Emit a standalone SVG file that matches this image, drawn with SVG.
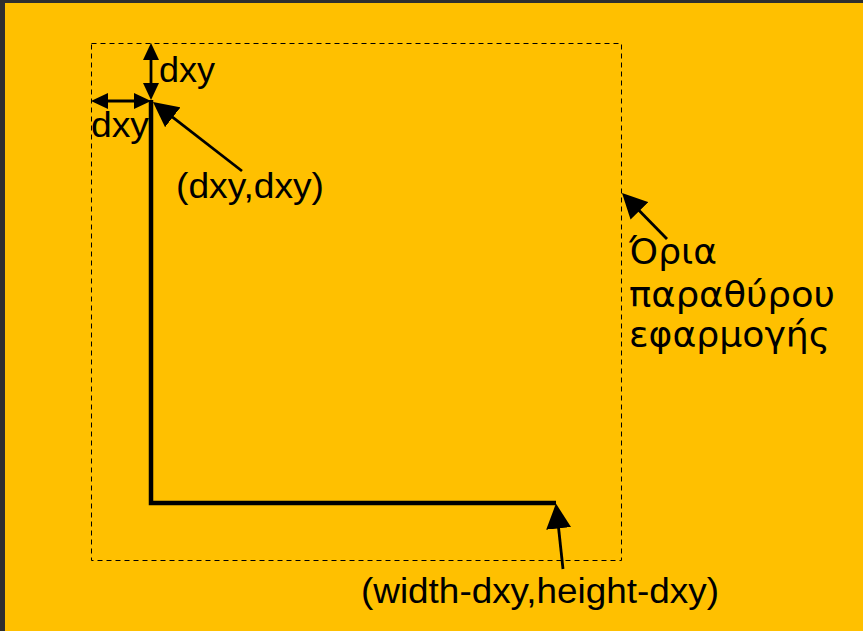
<svg xmlns="http://www.w3.org/2000/svg" width="863" height="631" viewBox="0 0 863 631">
<defs>
<style>
.lbl{font-family:"Liberation Sans",Arial,sans-serif;font-size:35px;fill:#000}
.gr{font-family:"DejaVu Sans","Liberation Sans",sans-serif;font-size:36px;fill:#000}
.arr{stroke:#000;stroke-width:2.8;fill:none}
</style>
<marker id="ah" viewBox="0 0 17 16" refX="11" refY="8" markerWidth="17" markerHeight="16" markerUnits="userSpaceOnUse" orient="auto-start-reverse">
<path d="M0,0 L17,8 L0,16 z" fill="#000"/>
</marker>
<marker id="big" viewBox="0 0 25 25" refX="17" refY="12.5" markerWidth="25" markerHeight="25" markerUnits="userSpaceOnUse" orient="auto">
<path d="M0,0 L25,12.5 L0,25 z" fill="#000"/>
</marker>
</defs>
<rect x="0" y="0" width="863" height="631" fill="#2f2f2f"/>
<rect x="5" y="3" width="858" height="628" fill="#FFC000"/>
<g id="window-bounds">
<rect x="91.5" y="43.5" width="530" height="517" fill="none" stroke="#000" stroke-width="1" stroke-dasharray="5,4"/>
</g>
<g id="axes">
<polyline points="151,100 151,503 556,503" fill="none" stroke="#000" stroke-width="4.5"/>
</g>
<g id="connectors">
<line class="arr" x1="151" y1="49" x2="151" y2="94" marker-start="url(#ah)" marker-end="url(#ah)"/>
<line class="arr" x1="97" y1="101" x2="145" y2="101" marker-start="url(#ah)" marker-end="url(#ah)"/>
<line class="arr" x1="242" y1="171" x2="159.3" y2="106.9" marker-end="url(#big)"/>
<line class="arr" x1="667" y1="239" x2="627.6" y2="198.7" marker-end="url(#big)"/>
<line class="arr" x1="563" y1="569" x2="556.8" y2="511.5" marker-end="url(#big)"/>
</g>
<g id="labels">
<text class="lbl" x="159" y="82" textLength="56" lengthAdjust="spacingAndGlyphs">dxy</text>
<text class="lbl" x="91" y="137" textLength="58" lengthAdjust="spacingAndGlyphs">dxy</text>
<text class="lbl" x="176" y="198" textLength="148" lengthAdjust="spacingAndGlyphs">(dxy,dxy)</text>
<text class="lbl" x="361" y="603" textLength="358" lengthAdjust="spacingAndGlyphs">(width-dxy,height-dxy)</text>
<text class="gr" x="629" y="264" textLength="88" lengthAdjust="spacingAndGlyphs">Όρια</text>
<text class="gr" x="629" y="307" textLength="206" lengthAdjust="spacingAndGlyphs">παραθύρου</text>
<text class="gr" x="629" y="347" textLength="201" lengthAdjust="spacingAndGlyphs">εφαρμογής</text>
</g>
</svg>
